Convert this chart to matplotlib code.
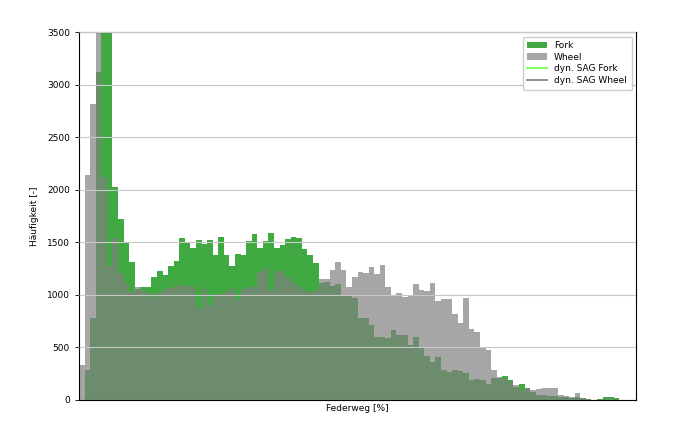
import numpy as np
import matplotlib
matplotlib.use("Agg")
import matplotlib.pyplot as plt

# Histogram counts per travel bin (1 % wide bins, 0..96 %)
fork_counts = [
    0, 285, 783, 3122, 4800, 3900, 2029, 1721, 1500, 1316,
    1052, 1078, 1078, 1173, 1230, 1189, 1275, 1322, 1538, 1496,
    1450, 1519, 1480, 1519, 1379, 1547, 1379, 1274, 1385, 1379,
    1512, 1578, 1442, 1512, 1585, 1442, 1474, 1531, 1553, 1537,
    1436, 1379, 1300, 1110, 1125, 1084, 1100, 1000, 1000, 967,
    777, 777, 714, 602, 595, 590, 666, 618, 618, 523,
    602, 507, 418, 365, 412, 285, 269, 285, 276, 254,
    190, 197, 190, 152, 206, 206, 228, 190, 127, 149,
    111, 79, 48, 48, 38, 38, 32, 25, 16, 30,
    16, 6, 2, 8, 25, 32, 16,
]
wheel_counts = [
    333, 2140, 2812, 3900, 2124, 1274, 1538, 1208, 1113, 1030,
    1078, 1050, 1020, 975, 1030, 1055, 1065, 1080, 1090, 1080,
    1070, 872, 1060, 903, 1000, 1010, 1030, 1060, 960, 1060,
    1070, 1070, 1220, 1252, 1046, 1228, 1228, 1157, 1110, 1075,
    1046, 1025, 1046, 1151, 1151, 1236, 1309, 1236, 1071, 1173,
    1221, 1205, 1262, 1198, 1280, 1075, 1000, 1021, 983, 999,
    1100, 1043, 1035, 1110, 941, 957, 957, 820, 735, 967,
    672, 645, 496, 480, 285, 222, 195, 174, 140, 95,
    111, 95, 105, 117, 117, 111, 48, 38, 25, 70,
    16, 8, 3, 3, 5, 8, 3,
]
bin_edges = list(range(len(fork_counts)))
y_ticks = [0, 500, 1000, 1500, 2000, 2500, 3000, 3500]

fig = plt.figure(figsize=(6.85, 4.23), dpi=100)
ax = fig.add_axes([0.1153, 0.0544, 0.8132, 0.8699])

b1 = ax.bar(bin_edges, fork_counts, width=1.0, align="edge", color="tab:green",
            alpha=0.9, linewidth=0, label="Fork")
b2 = ax.bar(bin_edges, wheel_counts, width=1.0, align="edge", color="gray",
            alpha=0.7, linewidth=0, label="Wheel")
l1, = ax.plot([], [], color="#66ff44", lw=1.2, label="dyn. SAG Fork")
l2, = ax.plot([], [], color="#707a80", lw=1.2, label="dyn. SAG Wheel")

ax.set_xlim(0, 100)
ax.set_ylim(0, 3500)
ax.set_yticks(y_ticks)
ax.set_xticks([])
ax.tick_params(axis="y", labelsize=6.5, length=3, width=0.6)
ax.set_axisbelow(False)
ax.grid(axis="y", color="#c8c8c8", linewidth=0.8)
for s in ax.spines.values():
    s.set_linewidth(0.8)

ax.set_xlabel("Federweg [%]", fontsize=6.5, labelpad=3)
ax.set_ylabel("Häufigkeit [-]", fontsize=6.5, labelpad=6)

ax.legend(handles=[b1, b2, l1, l2], loc="upper right", fontsize=6.5,
          framealpha=1.0, borderpad=0.5, handlelength=2.2, labelspacing=0.3,
          fancybox=True)

fig.savefig("out.png", dpi=100)
